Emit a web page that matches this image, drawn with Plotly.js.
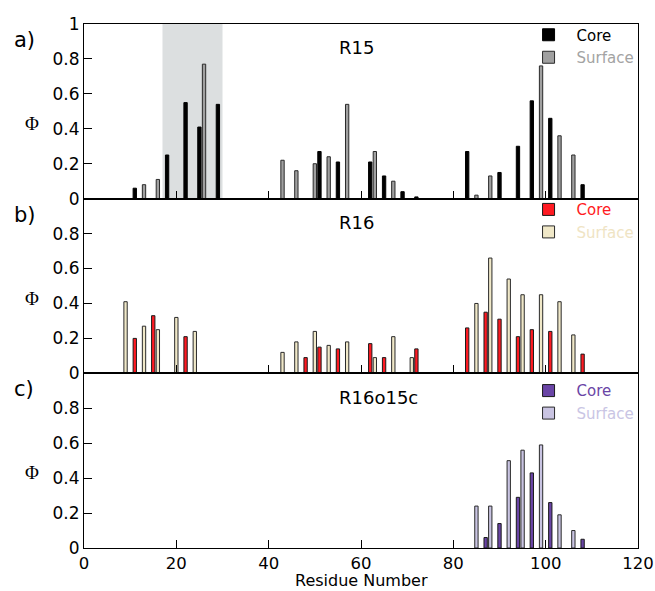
<!DOCTYPE html>
<html>
<head>
<meta charset="utf-8">
<script src="https://cdn.plot.ly/plotly-3.0.1.min.js"></script>
<style>
  html, body { margin: 0; padding: 0; background: #fff; }
  #chart { width: 655px; height: 591px; }
</style>
</head>
<body>
<div id="chart"></div>
<script>
// ---- Data ----
// Panel a) R15
const coreA_x = [11, 18, 22, 25, 29, 51, 55, 62, 65, 69, 72, 83, 90, 94, 97, 101, 108];
const coreA_y = [0.06, 0.25, 0.55, 0.41, 0.54, 0.27, 0.21, 0.21, 0.13, 0.04, 0.01, 0.27, 0.15, 0.30, 0.56, 0.46, 0.08];
const surfA_x = [13, 16, 26, 43, 46, 50, 53, 57, 63, 67, 85, 88, 99, 103, 106];
const surfA_y = [0.08, 0.11, 0.77, 0.22, 0.16, 0.20, 0.24, 0.54, 0.27, 0.10, 0.02, 0.13, 0.76, 0.36, 0.25];

// Panel b) R16
const coreB_x = [11, 15, 22, 48, 51, 55, 62, 65, 72, 83, 87, 90, 94, 97, 101, 108];
const coreB_y = [0.20, 0.33, 0.21, 0.09, 0.15, 0.14, 0.17, 0.09, 0.14, 0.26, 0.35, 0.31, 0.21, 0.25, 0.24, 0.11];
const surfB_x = [9, 13, 16, 20, 24, 43, 46, 50, 53, 57, 63, 67, 71, 85, 88, 92, 95, 99, 103, 106];
const surfB_y = [0.41, 0.27, 0.25, 0.32, 0.24, 0.12, 0.18, 0.24, 0.16, 0.18, 0.09, 0.21, 0.09, 0.40, 0.66, 0.54, 0.45, 0.45, 0.41, 0.22];

// Panel c) R16o15c
const coreC_x = [87, 90, 94, 97, 101, 108];
const coreC_y = [0.06, 0.14, 0.29, 0.43, 0.26, 0.05];
const surfC_x = [85, 88, 92, 95, 99, 103, 106];
const surfC_y = [0.24, 0.24, 0.50, 0.56, 0.59, 0.19, 0.10];

// Highlighted residue range in panel a
const highlightRange = [17, 30];

// Labels
const panelNames = ['R15', 'R16', 'R16o15c'];
const panelLetters = ['a)', 'b)', 'c)'];
const seriesNames = ['Core', 'Surface'];
const xTitle = 'Residue Number';
const xTickVals = [0, 20, 40, 60, 80, 100, 120];
const yTickValsTop = [0, 0.2, 0.4, 0.6, 0.8, 1];
const yTickVals = [0, 0.2, 0.4, 0.6, 0.8];

// ---- Styles ----
const FONT = 'DejaVu Sans, Liberation Sans, Arial, sans-serif';
const palettes = [
  { core: '#000000', coreLine: '#000000', surf: '#a0a0a0', surfLine: '#2a2a2a', coreText: '#000000', surfText: '#a3a3a3' },
  { core: '#ff1a22', coreLine: '#1a1a1a', surf: '#f0e8c8', surfLine: '#2a2a2a', coreText: '#ff1a22', surfText: '#efe4c4' },
  { core: '#6a45a6', coreLine: '#1a1a1a', surf: '#c9c4e2', surfLine: '#2a2a2a', coreText: '#6a45a6', surfText: '#c9c5e4' }
];
const panels = [
  { cx: coreA_x, cy: coreA_y, sx: surfA_x, sy: surfA_y },
  { cx: coreB_x, cy: coreB_y, sx: surfB_x, sy: surfB_y },
  { cx: coreC_x, cy: coreC_y, sx: surfC_x, sy: surfC_y }
];
const BARW = 0.72;

const traces = [];
panels.forEach((p, i) => {
  const ax = i === 0 ? '' : String(i + 1);
  const pal = palettes[i];
  const leg = i === 0 ? 'legend' : 'legend' + (i + 1);
  traces.push({
    type: 'bar', x: p.cx, y: p.cy, width: BARW,
    xaxis: 'x' + ax, yaxis: 'y' + ax, legend: leg,
    name: '<span style="color:' + pal.coreText + '">' + seriesNames[0] + '</span>',
    marker: { color: pal.core, line: { color: pal.coreLine, width: 1 } },
    hoverinfo: 'skip'
  });
  traces.push({
    type: 'bar', x: p.sx, y: p.sy, width: BARW,
    xaxis: 'x' + ax, yaxis: 'y' + ax, legend: leg,
    name: '<span style="color:' + pal.surfText + '">' + seriesNames[1] + '</span>',
    marker: { color: pal.surf, line: { color: pal.surfLine, width: 1 } },
    hoverinfo: 'skip'
  });
});

const MT = 24, MB = 43, H = 591;
const plotH = H - MT - MB;
const domains = [[2 / 3, 1], [1 / 3, 2 / 3], [0, 1 / 3]];
const legendTops = [1 + 5.5 / plotH, 2 / 3 + 5.5 / plotH, 1 / 3 - 1 / plotH];

const layout = {
  width: 655, height: H,
  margin: { l: 84, r: 17, t: MT, b: MB, pad: 0 },
  paper_bgcolor: '#ffffff', plot_bgcolor: 'rgba(0,0,0,0)',
  font: { family: FONT, size: 17, color: '#000' },
  barmode: 'overlay',
  showlegend: true,
  shapes: [{
    type: 'rect', xref: 'x', yref: 'y domain',
    x0: highlightRange[0], x1: highlightRange[1], y0: 0, y1: 1,
    fillcolor: '#dcdfe0', line: { width: 0 }, layer: 'below'
  }],
  annotations: [{
    text: xTitle, xref: 'paper', yref: 'paper', x: 0.5, y: -(MB - 0.5) / plotH,
    xanchor: 'center', yanchor: 'bottom', showarrow: false, borderpad: 0,
    font: { family: FONT, size: 16, color: '#000' }
  }]
};

[0, 1, 2].forEach(i => {
  const ax = i === 0 ? '' : String(i + 1);
  const xa = {
    range: [0, 120], tickvals: xTickVals, ticks: 'inside', ticklen: 8, tickwidth: 1, tickcolor: '#000',
    showline: true, linecolor: '#000', linewidth: 1, mirror: true,
    showgrid: false, zeroline: false, anchor: 'y' + ax, fixedrange: true,
    showticklabels: i === 2,
    tickfont: { family: FONT, size: 16.5, color: '#000' }
  };
  const ya = {
    domain: domains[i], range: [0, 1], tickvals: i === 0 ? yTickValsTop : yTickVals,
    ticks: 'inside', ticklen: 8, tickwidth: 1, tickcolor: '#000',
    showline: true, linecolor: '#000', linewidth: 1, mirror: true,
    showgrid: false, zeroline: false, anchor: 'x' + ax, fixedrange: true,
    tickfont: { family: FONT, size: 17, color: '#000' }
  };
  layout['xaxis' + ax] = xa;
  layout['yaxis' + ax] = ya;

  const leg = i === 0 ? 'legend' : 'legend' + (i + 1);
  layout[leg] = {
    x: 0.788, xanchor: 'left', y: legendTops[i], yanchor: 'top',
    bgcolor: 'rgba(0,0,0,0)', borderwidth: 0, itemwidth: 46,
    font: { family: FONT, size: 15 }, tracegroupgap: 0, itemclick: false, itemdoubleclick: false
  };

  // panel name
  layout.annotations.push({
    text: panelNames[i], xref: 'x' + ax, yref: 'y' + ax + ' domain',
    x: 54.8, y: 1 - 24 / 175, xanchor: 'left', yanchor: 'middle', showarrow: false,
    font: { family: FONT, size: 18, color: '#000' }
  });
  // panel letter
  layout.annotations.push({
    text: panelLetters[i], xref: 'paper', yref: 'y' + ax + ' domain',
    x: -0.13, y: 1 - 16 / 175, xanchor: 'left', yanchor: 'middle', showarrow: false,
    font: { family: FONT, size: 21, color: '#000' }
  });
  // Phi label
  layout.annotations.push({
    text: 'Φ', xref: 'paper', yref: 'y' + ax,
    x: (32 - 84) / 554, y: 0.43, xanchor: 'center', yanchor: 'middle', showarrow: false,
    font: { family: 'Liberation Serif, DejaVu Serif, serif', size: 19, color: '#000' }
  });
});

Plotly.newPlot('chart', traces, layout, { staticPlot: true, displayModeBar: false });
</script>
</body>
</html>
